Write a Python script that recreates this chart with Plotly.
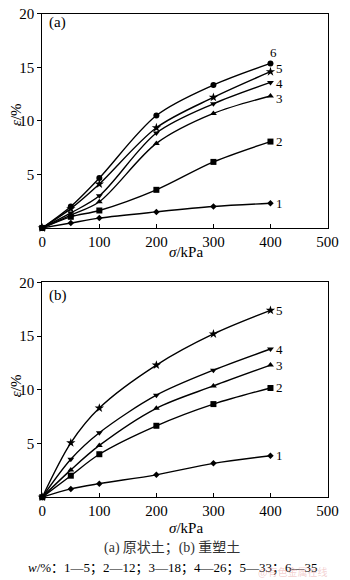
import plotly.graph_objects as go

# Stress levels (kPa)
sigma = [0, 50, 100, 200, 300, 400]

# (a) undisturbed soil: strain (%) for each water-content curve
strain_a = {
    "1": [0, 0.46, 0.92, 1.5, 2.0, 2.3],
    "2": [0, 1.04, 1.63, 3.56, 6.17, 8.07],
    "3": [0, 1.2, 2.45, 7.9, 10.7, 12.33],
    "4": [0, 1.4, 3.0, 8.87, 11.6, 13.6],
    "5": [0, 1.8, 4.1, 9.36, 12.2, 14.6],
    "6": [0, 2.0, 4.66, 10.5, 13.35, 15.37],
}

# (b) remoulded soil
strain_b = {
    "1": [0, 0.77, 1.26, 2.08, 3.15, 3.86],
    "2": [0, 2.0, 4.0, 6.65, 8.67, 10.17],
    "3": [0, 2.54, 4.82, 8.28, 10.36, 12.3],
    "4": [0, 3.53, 6.0, 9.5, 11.83, 13.8],
    "5": [0, 5.06, 8.3, 12.3, 15.2, 17.4],
}

x_ticks = [0, 100, 200, 300, 400, 500]
y_ticks = [5, 10, 15, 20]

symbols = {"1": "diamond", "2": "square", "3": "triangle-up",
           "4": "triangle-down", "5": "star", "6": "circle"}
sizes = {"1": 5, "2": 6, "3": 6, "4": 6, "5": 7, "6": 6}

# small vertical nudges for crowded end labels in panel (a)
nudge_a = {"1": 0, "2": 0, "3": -3, "4": -1, "5": 3, "6": 0}

SERIF = "Liberation Serif, Times New Roman, serif"
CJK = "Noto Sans CJK SC"

fig = go.Figure()


def add_panel(data, xa, ya):
    for key, vals in data.items():
        fig.add_trace(go.Scatter(
            x=sigma, y=vals, xaxis=xa, yaxis=ya,
            mode="lines+markers",
            line=dict(color="black", width=1.4, shape="spline", smoothing=0.9),
            marker=dict(symbol=symbols[key], size=sizes[key], color="black"),
            cliponaxis=False, showlegend=False, hoverinfo="x+y",
        ))


add_panel(strain_a, "x", "y")
add_panel(strain_b, "x2", "y2")

xdom = [40 / 350, 338 / 350]
dom_a = [1 - 223 / 580, 1 - 6 / 580]
dom_b = [1 - 496 / 580, 1 - 278.3 / 580]

axis_common = dict(
    showgrid=False, zeroline=False, showline=True, linecolor="black",
    linewidth=1, mirror=True, ticklen=4, tickcolor="black",
    tickfont=dict(family=SERIF, size=15, color="black"),
)
x_axis = dict(range=[0, 500], tickvals=x_ticks, ticks="inside", **axis_common)
y_axis = dict(range=[0, 20], tickvals=y_ticks, ticks="outside", **axis_common)

fig.update_layout(
    width=350, height=580,
    margin=dict(l=0, r=0, t=0, b=0),
    paper_bgcolor="white", plot_bgcolor="white",
    xaxis=dict(domain=xdom, anchor="y", **x_axis),
    yaxis=dict(domain=dom_a, anchor="x", **y_axis),
    xaxis2=dict(domain=xdom, anchor="y2", **x_axis),
    yaxis2=dict(domain=dom_b, anchor="x2", **y_axis),
)

LABEL_FONT = dict(family=SERIF, size=13, color="black")


def px_note(x, y, text, **kw):
    """Annotation placed by pixel position on the page."""
    opts = dict(x=x / 350, y=1 - y / 580, xref="paper", yref="paper", text=text,
                showarrow=False, xanchor="center", yanchor="middle")
    opts.update(kw)
    return opts


ann = []
# curve numbers beside the last point
for key, vals in strain_a.items():
    if key == "6":
        ann.append(dict(x=sigma[-1], y=vals[-1], xref="x", yref="y", text=key,
                        showarrow=False, xanchor="center", yanchor="bottom",
                        xshift=3, yshift=2, borderpad=0, font=LABEL_FONT))
    else:
        ann.append(dict(x=sigma[-1], y=vals[-1], xref="x", yref="y", text=key,
                        showarrow=False, xanchor="left", yanchor="middle",
                        xshift=5, yshift=nudge_a[key], borderpad=0, font=LABEL_FONT))
for key, vals in strain_b.items():
    ann.append(dict(x=sigma[-1], y=vals[-1], xref="x2", yref="y2", text=key,
                    showarrow=False, xanchor="left", yanchor="middle",
                    xshift=5, borderpad=0, font=LABEL_FONT))

# panel tags
ann.append(px_note(45, 15, "(a)", xanchor="left", font=dict(family=SERIF, size=15, color="black")))
ann.append(px_note(45, 292, "(b)", xanchor="left", font=dict(family=SERIF, size=15, color="black")))

# axis titles
for ytitle in (108, 383):
    ann.append(px_note(12, ytitle, "<i>ε</i>/%", textangle=-90,
                       font=dict(family=SERIF, size=15, color="black")))
for xtitle in (247, 527):
    ann.append(px_note(190, xtitle, "<i>σ</i>/kPa",
                       font=dict(family=SERIF, size=15, color="black")))

# captions
ann.append(px_note(175, 546,
                   "<span style='font-family:Liberation Serif'>(a)</span> 原状土；"
                   "<span style='font-family:Liberation Serif'>(b)</span> 重塑土",
                   font=dict(family=CJK, size=14, color="#333")))
ann.append(px_note(177, 568, "<i>w</i>/%：1—5；2—12；3—18；4—26；5—33；6—35",
                   font=dict(family=SERIF + ", " + CJK, size=13, color="black")))
ann.append(px_note(338, 571, "@有色金属在线", xanchor="right", borderpad=0,
                   font=dict(family=CJK, size=10, color="rgba(230,150,150,0.45)")))

fig.update_layout(annotations=ann)

fig.write_html("out.html")
